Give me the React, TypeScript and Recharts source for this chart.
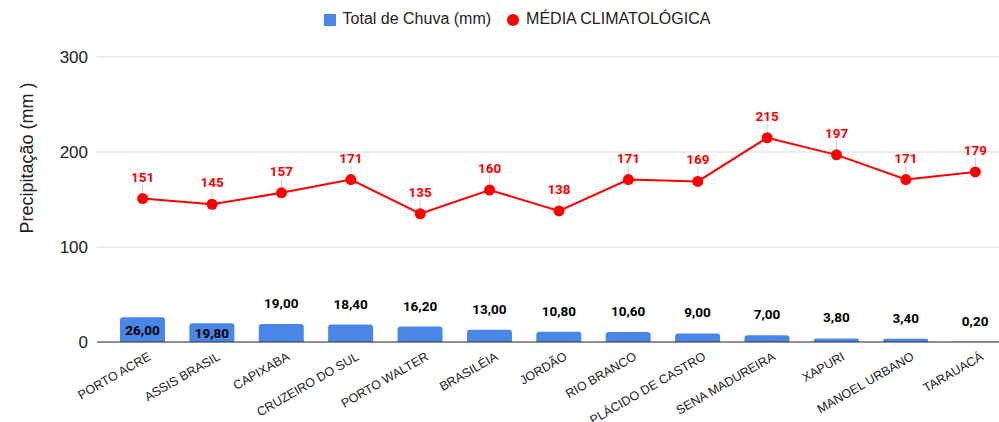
import React from 'react';
import { ComposedChart, Bar, Line, XAxis, YAxis, CartesianGrid, Legend, LabelList } from 'recharts';

const stations = [
  'PORTO ACRE', 'ASSIS BRASIL', 'CAPIXABA', 'CRUZEIRO DO SUL', 'PORTO WALTER', 'BRASILÉIA', 'JORDÃO',
  'RIO BRANCO', 'PLÁCIDO DE CASTRO', 'SENA MADUREIRA', 'XAPURI', 'MANOEL URBANO', 'TARAUACÁ',
];
const totalChuva = [26, 19.8, 19, 18.4, 16.2, 13, 10.8, 10.6, 9, 7, 3.8, 3.4, 0.2];
const mediaClimatologica = [151, 145, 157, 171, 135, 160, 138, 171, 169, 215, 197, 171, 179];
const yTicks = [0, 100, 200, 300];

const data = stations.map((name, i) => ({
  name,
  chuva: totalChuva[i],
  media: mediaClimatologica[i],
}));

const BLUE = '#4a86e8';
const RED = '#ff0000';
const TEXT = '#222222';
const FONT = "'Liberation Sans', Arial, sans-serif";

const fmt = (v: number) => v.toFixed(2).replace('.', ',');

const BarValueLabel = (props: any) => {
  const { x, y, width, height, value } = props;
  // big bars get the label inside, centred; the rest sit above
  const inside = value > 19.5;
  const ty = inside ? y + height / 2 : y - 21;
  return (
    <text x={x + width / 2} y={ty} textAnchor="middle" dominantBaseline="central"
      fontFamily="Roboto, Arial, sans-serif" fontWeight="bold" fontSize={13.5} fill="#000">
      {fmt(value)}
    </text>
  );
};

const LineValueLabel = (props: any) => {
  const { x, y, value } = props;
  return (
    <g>
      <line x1={x} x2={x} y1={y - 14} y2={y - 6} stroke="#d0d0d0" strokeWidth={1} />
      <text x={x} y={y - 22} textAnchor="middle" dominantBaseline="central"
        fontFamily="Roboto, Arial, sans-serif" fontWeight="bold" fontSize={13.5} fill={RED}>
        {value}
      </text>
    </g>
  );
};

const XTick = (props: any) => {
  const { x, y, payload } = props;
  return (
    <g transform={`translate(${x + 9},${y + 17})`}>
      <text x={0} y={0} textAnchor="end" transform="rotate(-30)"
        fontFamily={FONT} fontSize={12.5} fill={TEXT}>
        {payload.value}
      </text>
    </g>
  );
};

const YLabel = () => (
  <text x={27} y={158} transform="rotate(-90, 27, 158)" textAnchor="middle" dominantBaseline="central"
    fontFamily={FONT} fontSize={18} fill={TEXT}>
    Precipitação (mm )
  </text>
);

const legendOrder = ['chuva', 'media'];

export default function App() {
  return (
    <div style={{ position: 'absolute', left: 0, top: 0, width: 999, height: 422, overflow: 'hidden', background: '#fff' }}>
      <ComposedChart width={1012} height={422} data={data} margin={{ top: 57, right: 2, bottom: 10, left: 0 }}>
        <CartesianGrid vertical={false} stroke="#d9d9d9" />
        <XAxis dataKey="name" interval={0} padding={{ left: 11, right: 0 }} height={70}
          tickLine={false} tickSize={0} tickMargin={0} stroke="#333" tick={<XTick />} />
        <YAxis domain={[0, 300]} ticks={yTicks} width={97} axisLine={false} tickLine={false} tickMargin={3}
          tick={{ fontSize: 17, fill: TEXT, fontFamily: FONT }}
          label={<YLabel />} />
        <Legend verticalAlign="middle" align="center" iconSize={12}
          itemSorter={(item: any) => legendOrder.indexOf(item.dataKey)}
          wrapperStyle={{ top: 10, left: 0, width: 1050, fontFamily: FONT, fontSize: 16 }}
          formatter={(value: string) => <span style={{ color: TEXT, marginLeft: 3, marginRight: 6 }}>{value}</span>} />
        <Bar dataKey="chuva" name="Total de Chuva (mm)" fill={BLUE} barSize={45} radius={[3, 3, 0, 0]}
          legendType="square" isAnimationActive={false}>
          <LabelList dataKey="chuva" content={<BarValueLabel />} />
        </Bar>
        <Line dataKey="media" name="MÉDIA CLIMATOLÓGICA" stroke={RED} strokeWidth={2} legendType="circle"
          dot={{ r: 5.5, fill: RED, stroke: RED, strokeWidth: 0 }} activeDot={false} isAnimationActive={false}>
          <LabelList dataKey="media" content={<LineValueLabel />} />
        </Line>
      </ComposedChart>
    </div>
  );
}
